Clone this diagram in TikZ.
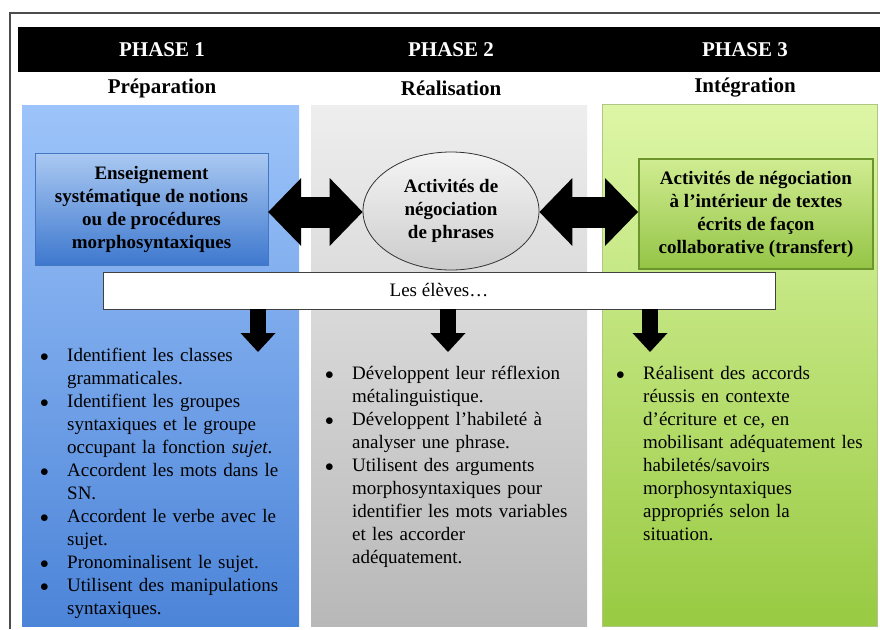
\documentclass[tikz,border=0pt]{standalone}
\usepackage{fontspec}
\setmainfont{Liberation Serif}
\usepackage{enumitem}
\usetikzlibrary{arrows.meta,shapes.geometric}

% column and box colours
\definecolor{blueTop}{RGB}{157,196,250}
\definecolor{blueBot}{RGB}{76,132,216}
\definecolor{boxBlueTop}{RGB}{170,201,242}
\definecolor{boxBlueBot}{RGB}{62,120,206}
\definecolor{greyTop}{RGB}{238,238,238}
\definecolor{greyBot}{RGB}{184,184,184}
\definecolor{greenTop}{RGB}{221,246,166}
\definecolor{greenBot}{RGB}{152,202,66}
\definecolor{boxGreenTop}{RGB}{208,236,145}
\definecolor{boxGreenBot}{RGB}{148,196,70}
\definecolor{boxGreenLine}{RGB}{108,148,44}

\setlist[itemize]{label=$\bullet$, align=left, leftmargin=27pt, labelwidth=11pt,
  labelsep=16pt, itemsep=0pt, topsep=0pt, parsep=0pt, partopsep=0pt}

\begin{document}
\begin{tikzpicture}[x=1pt, y=-1pt,
        column/.style={rectangle, inner sep=0pt, anchor=north west},
        bodytext/.style={font=\fontsize{19}{23}\selectfont},
        boldtext/.style={font=\fontsize{19}{23}\selectfont\bfseries, align=center},
        listtext/.style={bodytext, anchor=north west, inner sep=0pt, text width=250pt, align=left},
        fatarrow/.style={line width=31pt, {Triangle[length=33pt,width=68pt,line width=0pt]}-{Triangle[length=33pt,width=68pt,line width=0pt]}},
        downarrow/.style={line width=16pt, -{Triangle[length=19pt,width=35pt,line width=0pt]}}]

        \useasboundingbox (0,0) rectangle (880,629);

        % Outer frame and black header band
        \draw[line width=1.5pt, black!70] (10,629) -- (10,13) -- (880,13);
        \fill[black] (18,27) rectangle (880,72);

        % Loop to draw the phase titles and their names
        \foreach \x/\n/\name in {162/1/Préparation, 451/2/Réalisation, 745/3/Intégration} {
            \node[font=\fontsize{21}{25}\selectfont\bfseries, text=white] (ph\n) at (\x,50) {PHASE \n};
            \node[font=\fontsize{21}{25}\selectfont\bfseries] (name\n) at (\x,88) {\name};
        }

        % The three columns
        \node[column, minimum width=277pt, minimum height=521pt, top color=blueTop, bottom color=blueBot] (col1) at (22,105) {};
        \node[column, minimum width=276pt, minimum height=521pt, top color=greyTop, bottom color=greyBot] (col2) at (311,105) {};
        \node[column, minimum width=275pt, minimum height=522pt, top color=greenTop, bottom color=greenBot, draw=greenTop!80!black, line width=0.4pt] (col3) at (602,104) {};

        % Boxes of each phase
        \node[boldtext, rectangle, minimum width=233pt, minimum height=112pt, draw=blueBot!90!black, line width=0.4pt,
              top color=boxBlueTop, bottom color=boxBlueBot] (ens) at (151.5,209)
              {Enseignement\\systématique de notions\\ou de procédures\\morphosyntaxiques};
        \node[boldtext, ellipse, minimum width=176pt, minimum height=118pt, draw=black!80, line width=0.8pt,
              top color=white!96!black, bottom color=black!20, inner sep=0pt] (neg) at (451,211)
              {Activités de\\négociation\\de phrases};
        \node[boldtext, rectangle, minimum width=234pt, minimum height=110pt, draw=boxGreenLine, line width=2pt,
              top color=boxGreenTop, bottom color=boxGreenBot] (act) at (756,214)
              {Activités de négociation\\à l’intérieur de textes\\écrits de façon\\collaborative (transfert)};

        % Double arrows between the phases
        \draw[fatarrow] (ens.east |- 0,212) -- (neg.west |- 0,212);
        \draw[fatarrow] (neg.east |- 0,212) -- (act.west |- 0,212);

        % Band across the columns
        \node[bodytext, rectangle, draw=black!75, line width=0.6pt, fill=white, minimum width=672pt, minimum height=37pt] (eleves) at (439,290.5) {Les élèves…};

        % Arrows down to the lists
        \coordinate (d1) at (258,352);
        \coordinate (d2) at (448,352);
        \coordinate (d3) at (650,352);
        \foreach \d in {d1,d2,d3} {
            \draw[downarrow] (eleves.south -| \d) -- (\d);
        }

        % Lists of each phase
        \node[listtext] (list1) at (40,338) {%
            \begin{itemize}
            \item Identifient les classes\newline grammaticales.
            \item Identifient les groupes\newline syntaxiques et le groupe\newline occupant la fonction \textit{sujet}.
            \item Accordent les mots dans le\newline SN.
            \item Accordent le verbe avec le\newline sujet.
            \item Pronominalisent le sujet.
            \item Utilisent des manipulations\newline syntaxiques.
            \end{itemize}};
        \node[listtext] (list2) at (325,356) {%
            \begin{itemize}
            \item Développent leur réflexion\newline métalinguistique.
            \item Développent l’habileté à\newline analyser une phrase.
            \item Utilisent des arguments\newline morphosyntaxiques pour\newline identifier les mots variables\newline et les accorder\newline adéquatement.
            \end{itemize}};
        \node[listtext] (list3) at (616,356) {%
            \begin{itemize}
            \item Réalisent des accords\newline réussis en contexte\newline d’écriture et ce, en\newline mobilisant adéquatement les\newline habiletés/savoirs\newline morphosyntaxiques\newline appropriés selon la\newline situation.
            \end{itemize}};

\end{tikzpicture}
\end{document}
